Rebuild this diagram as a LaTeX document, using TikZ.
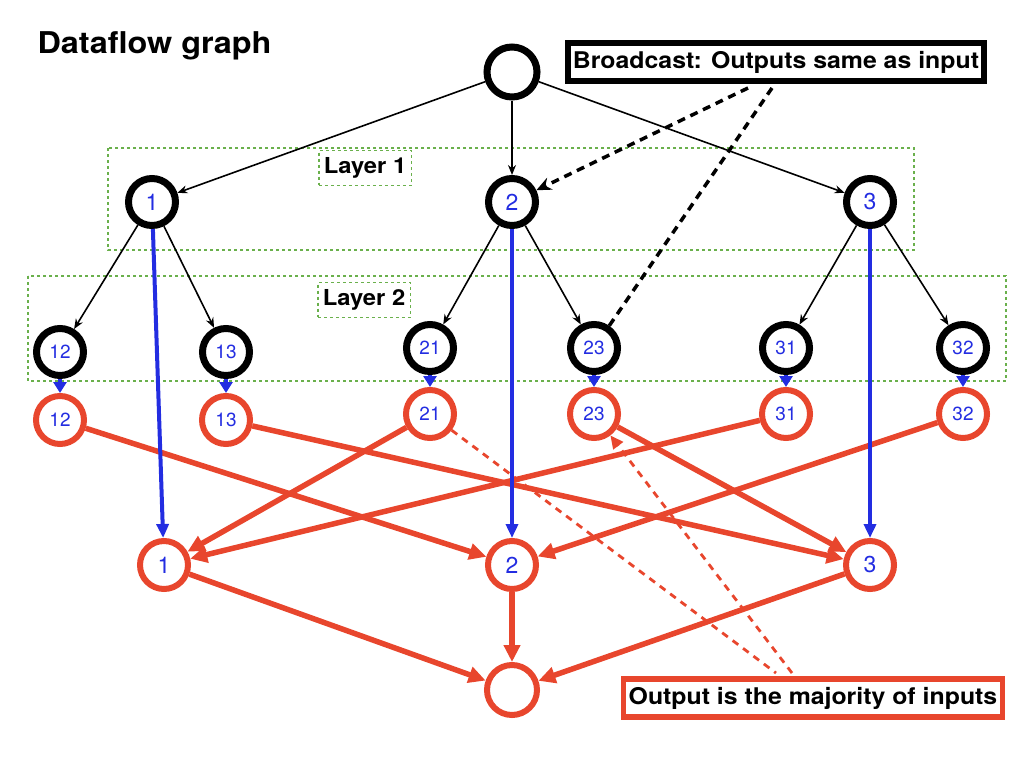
\documentclass[tikz,border=0pt]{standalone}
\usepackage{fontspec}
\setmainfont{TeX Gyre Heros}
\newfontfamily\widebf[FakeStretch=1.08]{TeX Gyre Heros Bold}
\usetikzlibrary{arrows.meta}
\definecolor{nodeblue}{RGB}{35,45,225}
\definecolor{flowred}{RGB}{232,70,45}
\definecolor{layergreen}{RGB}{106,176,76}
\begin{document}
\begin{tikzpicture}[
x=1pt,y=-1pt,
blk/.style={circle,draw=black,line width=7pt,minimum size=47pt,inner sep=0pt,text=nodeblue},
redn/.style={circle,draw=flowred,line width=6pt,minimum size=48pt,inner sep=0pt,text=nodeblue},
big/.style={font=\fontsize{23}{26}\selectfont},
small/.style={font=\fontsize{19}{22}\selectfont},
layerbox/.style={draw=layergreen,dashed,line width=1.5pt},
layerlbl/.style={layerbox,font=\fontsize{22}{26}\widebf,inner xsep=5pt,inner ysep=7pt},
tree/.style={-{Stealth[length=10pt,width=8pt]},line width=1.6pt},
bcast/.style={line width=3.5pt,dash pattern=on 8pt off 6pt},
blue/.style={draw=nodeblue,line width=4pt,-{Triangle[length=14pt,width=12pt]}},
vote/.style={draw=flowred,line width=5.5pt,-{Triangle[length=17pt,width=16pt]}},
note/.style={draw=flowred,line width=2.8pt,dash pattern=on 7pt off 6pt}
]
\useasboundingbox (0,0) rectangle (1024,768);

% title
\node[anchor=west,font=\fontsize{30}{36}\widebf] (title) at (34,46) {Dataflow graph};

% layer boxes
\draw[layerbox] (108,148) rectangle (914,250);
\draw[layerbox] (28,276) rectangle (1006,381);
\node[layerlbl] (l1) at (365,168) {Layer 1};
\node[layerlbl] (l2) at (364,300) {Layer 2};

% broadcast tree
\node[blk,minimum size=50pt] (root) at (512,72) {};
\node[blk,big] (n1) at (152,202) {1};
\node[blk,big] (n2) at (512,202) {2};
\node[blk,big] (n3) at (870,202) {3};
\node[blk,small] (b12) at (60,352) {12};
\node[blk,small] (b13) at (226,352) {13};
\node[blk,small] (b21) at (430,348) {21};
\node[blk,small] (b23) at (594,348) {23};
\node[blk,small] (b31) at (786,348) {31};
\node[blk,small] (b32) at (963,348) {32};

% majority votes
\node[redn,small] (r12) at (60,420) {12};
\node[redn,small] (r13) at (226,420) {13};
\node[redn,small] (r21) at (430,414) {21};
\node[redn,small] (r23) at (594,414) {23};
\node[redn,small] (r31) at (786,414) {31};
\node[redn,small] (r32) at (963,414) {32};
\node[redn,big] (m1) at (164,565) {1};
\node[redn,big] (m2) at (512,565) {2};
\node[redn,big] (m3) at (870,565) {3};
\node[redn,minimum size=50pt] (out) at (512,690) {};

% notes
\node[draw=black,line width=6pt,inner xsep=5pt,inner ysep=8pt,font=\fontsize{23}{26}\widebf] (bc) at (776,62) {Broadcast: Outputs same as input};
\node[draw=flowred,line width=5.5pt,inner xsep=5pt,inner ysep=8pt,font=\fontsize{23}{26}\widebf] (maj) at (813,698) {Output is the majority of inputs};
\coordinate (bcA) at (748,88);
\coordinate (bcB) at (772,88);
\coordinate (majA) at (776,673);
\coordinate (majB) at (792,673);

\draw[tree] (root) -- (n1);
\draw[tree] (root) -- (n2);
\draw[tree] (root) -- (n3);
\draw[tree] (n1) -- (b12);
\draw[tree] (n1) -- (b13);
\draw[tree] (n2) -- (b21);
\draw[tree] (n2) -- (b23);
\draw[tree] (n3) -- (b31);
\draw[tree] (n3) -- (b32);

\draw[bcast,-{Stealth[length=15pt,width=13pt]}] (bcA) -- (n2);
\draw[bcast] (bcB) -- (b23);

\draw[note] (r21) -- (majA);
\draw[note,-{Triangle[length=13pt,width=12pt]}] (majB) -- (r23);

\foreach \a/\b in {r12/m2,r13/m3,r21/m1,r23/m3,r31/m1,r32/m2,m1/out,m2/out,m3/out}
  \draw[vote] (\a) -- (\b);

\foreach \a in {12,13,21,23,31,32}
  \draw[blue,-{Triangle[length=11pt,width=13pt]}] (b\a) -- (r\a);
\draw[blue] (n1) -- (m1);
\draw[blue] (n2) -- (m2);
\draw[blue] (n3) -- (m3);
\end{tikzpicture}
\end{document}
